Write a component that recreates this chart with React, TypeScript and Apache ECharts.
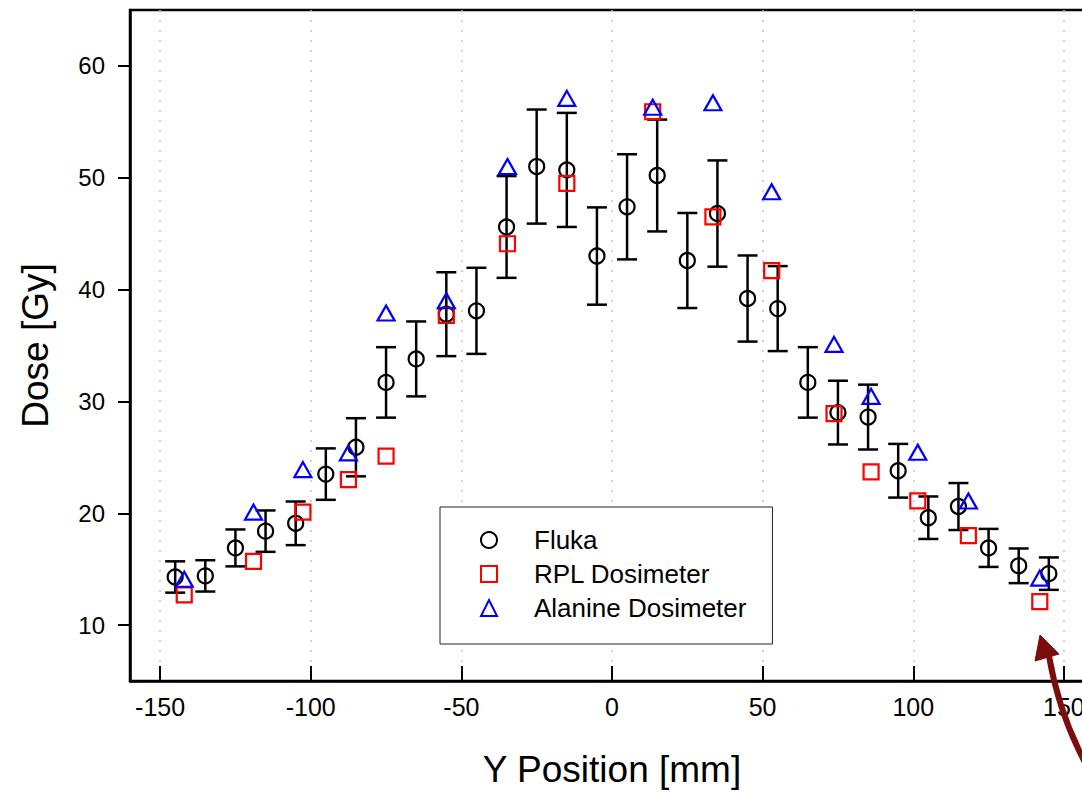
import React, { useEffect, useRef } from 'react';
import * as echarts from 'echarts';

const xTicks = [-150, -100, -50, 0, 50, 100, 150];
const yTicks = [10, 20, 30, 40, 50, 60];

const flukaX = [-145, -135, -125, -115, -105, -95, -85, -75, -65, -55, -45, -35, -25, -15, -5, 5, 15, 25, 35, 45, 55, 65, 75, 85, 95, 105, 115, 125, 135, 145];
const flukaDose = [14.3, 14.4, 16.9, 18.4, 19.1, 23.5, 25.9, 31.7, 33.8, 37.8, 38.1, 45.6, 51.0, 50.7, 43.0, 47.4, 50.2, 42.6, 46.8, 39.2, 38.3, 31.7, 29.0, 28.6, 23.8, 19.6, 20.6, 16.9, 15.3, 14.6];
const flukaErr = [1.4, 1.4, 1.65, 1.85, 1.95, 2.3, 2.6, 3.15, 3.35, 3.75, 3.85, 4.55, 5.1, 5.1, 4.35, 4.7, 5.0, 4.25, 4.75, 3.85, 3.8, 3.15, 2.85, 2.9, 2.4, 1.9, 2.1, 1.7, 1.55, 1.45];

const dosimeterX = [-142, -119, -102.6, -87.5, -75, -55, -34.7, -15, 13.5, 33.5, 53, 73.7, 86, 101.5, 118.3, 142];
const rplDose = [12.7, 15.7, 20.1, 23.0, 25.1, 37.7, 44.1, 49.5, 55.9, 46.5, 41.7, 28.9, 23.7, 21.1, 18.0, 12.1];
const alanineDose = [14.1, 20.1, 23.9, 25.4, 37.9, 39.0, 51.0, 57.1, 56.3, 56.7, 48.75, 35.1, 30.45, 25.45, 21.1, 14.2];

const FONT = "'Liberation Sans', Arial, Helvetica, sans-serif";

export default function App() {
  const ref = useRef<HTMLDivElement>(null);

  useEffect(() => {
    if (!ref.current) return;
    const chart = echarts.init(ref.current, null, { renderer: 'svg' });

    const errData = flukaX.map((x, i) => [x, flukaDose[i] - flukaErr[i], flukaDose[i] + flukaErr[i]]);

    chart.setOption({
      animation: false,
      backgroundColor: '#ffffff',
      textStyle: { fontFamily: FONT },
      grid: {
        left: 130,
        right: 16,
        top: 10,
        bottom: 110,
        show: true,
        borderColor: '#000',
        borderWidth: 2.5,
        backgroundColor: 'transparent',
      },
      legend: {
        data: ['Fluka', 'RPL Dosimeter', 'Alanine Dosimeter'],
        orient: 'vertical',
        left: 440,
        top: 507,
        padding: [20, 26, 23, 40],
        itemGap: 8,
        itemWidth: 16,
        itemHeight: 16,
        borderColor: '#222',
        borderWidth: 1,
        backgroundColor: '#fff',
        textStyle: { fontFamily: FONT, fontSize: 26, color: '#000', padding: [0, 0, 0, 32] },
      },
      xAxis: {
        type: 'value',
        min: -160,
        max: 160,
        name: 'Y Position [mm]',
        nameLocation: 'middle',
        nameGap: 70,
        nameTextStyle: { fontFamily: FONT, fontSize: 37, color: '#000' },
        axisLine: { show: true, onZero: false, lineStyle: { color: '#000', width: 2.5 } },
        axisTick: { show: true, inside: true, length: 15, lineStyle: { color: '#000', width: 2 }, customValues: xTicks },
        axisLabel: { show: true, margin: 13, fontSize: 25, color: '#000', fontFamily: FONT, customValues: xTicks },
        splitLine: { show: true, lineStyle: { color: '#c4c4c4', width: 1.5, type: [2, 8] } },
      },
      yAxis: {
        type: 'value',
        min: 5,
        max: 65,
        name: 'Dose [Gy]',
        nameLocation: 'middle',
        nameGap: 76,
        nameTextStyle: { fontFamily: FONT, fontSize: 37, color: '#000' },
        axisLine: { show: true, onZero: false, lineStyle: { color: '#000', width: 2.5 } },
        axisTick: { show: true, inside: false, length: 12, lineStyle: { color: '#000', width: 2 }, customValues: yTicks },
        axisLabel: { show: true, margin: 25, fontSize: 24, color: '#000', fontFamily: FONT, customValues: yTicks },
        splitLine: { show: false },
      },
      series: [
        {
          name: 'Fluka error',
          type: 'custom',
          data: errData,
          encode: { x: 0, y: [1, 2] },
          z: 2,
          renderItem: (params: any, api: any) => {
            const x = api.value(0);
            const lo = api.coord([x, api.value(1)]);
            const hi = api.coord([x, api.value(2)]);
            const hw = 10;
            const style = { stroke: '#000', lineWidth: 2.5 };
            return {
              type: 'group',
              children: [
                { type: 'line', shape: { x1: lo[0], y1: lo[1], x2: hi[0], y2: hi[1] }, style },
                { type: 'line', shape: { x1: lo[0] - hw, y1: lo[1], x2: lo[0] + hw, y2: lo[1] }, style },
                { type: 'line', shape: { x1: hi[0] - hw, y1: hi[1], x2: hi[0] + hw, y2: hi[1] }, style },
              ],
            };
          },
        },
        {
          name: 'Fluka',
          type: 'scatter',
          symbol: 'circle',
          symbolSize: 15,
          z: 3,
          itemStyle: { color: 'rgba(255,255,255,0)', borderColor: '#000', borderWidth: 2.2, opacity: 1 },
          data: flukaX.map((x, i) => [x, flukaDose[i]]),
        },
        {
          name: 'RPL Dosimeter',
          type: 'scatter',
          symbol: 'rect',
          symbolSize: 15,
          z: 4,
          itemStyle: { color: 'rgba(255,255,255,0)', borderColor: '#ff0000', borderWidth: 2.2, opacity: 1 },
          data: dosimeterX.map((x, i) => [x, rplDose[i]]),
        },
        {
          name: 'Alanine Dosimeter',
          type: 'scatter',
          symbol: 'triangle',
          symbolSize: [17, 15],
          z: 5,
          itemStyle: { color: 'rgba(255,255,255,0)', borderColor: '#0000ff', borderWidth: 2.2, opacity: 1 },
          data: dosimeterX.map((x, i) => [x, alanineDose[i]]),
        },
      ],
      graphic: [
        {
          type: 'bezierCurve',
          silent: true,
          shape: { x1: 1049, y1: 656, x2: 1092, y2: 775, cpx1: 1060, cpy1: 720 },
          style: { stroke: '#7c0d0d', lineWidth: 6, fill: null },
          z: 10,
        },
        {
          type: 'polygon',
          silent: true,
          shape: { points: [[1040, 635], [1035, 661], [1059, 654]] },
          style: { fill: '#7c0d0d', stroke: '#7c0d0d', lineWidth: 1 },
          z: 10,
        },
      ],
    });

    return () => chart.dispose();
  }, []);

  return (
    <div style={{ position: 'fixed', left: 0, top: 0, width: 1082, height: 793, overflow: 'hidden', background: '#fff' }}>
      <div ref={ref} style={{ width: 1110, height: 793 }} />
    </div>
  );
}
